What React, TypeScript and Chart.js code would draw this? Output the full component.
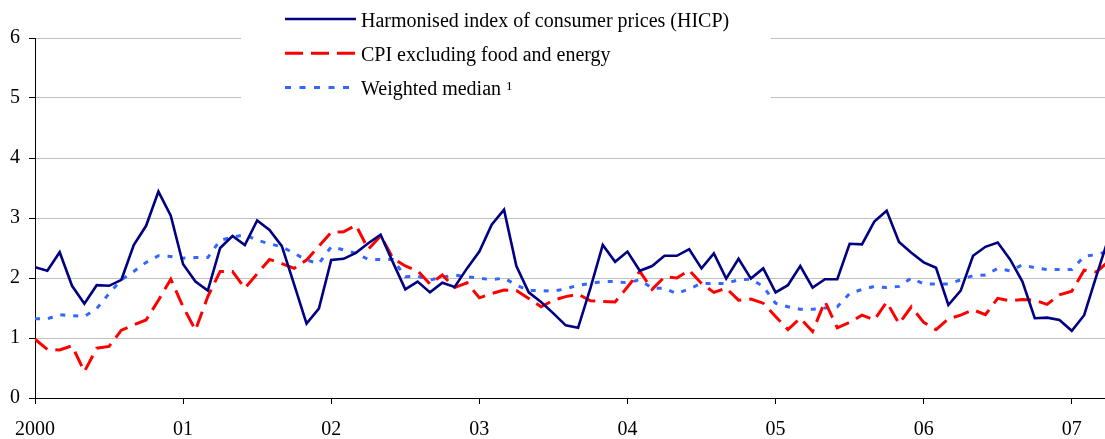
import React, { useEffect, useRef } from "react";
import { Chart, registerables } from "chart.js";

Chart.register(...registerables);

// Monthly observations, January 2000 onwards
const yearLabels = ["2000", "01", "02", "03", "04", "05", "06", "07"];

const seriesNames = [
  "Harmonised index of consumer prices (HICP)",
  "CPI excluding food and energy",
  "Weighted median",
];
const footnoteMark = "1";

const hicp = [
  2.18, 2.12, 2.43, 1.87, 1.57, 1.88, 1.87, 1.97, 2.55, 2.87, 3.44, 3.04,
  2.23, 1.94, 1.79, 2.5, 2.7, 2.55, 2.96, 2.8, 2.53, 1.89, 1.24, 1.49,
  2.3, 2.32, 2.42, 2.58, 2.72, 2.26, 1.81, 1.94, 1.76, 1.92, 1.85, 2.16,
  2.44, 2.89, 3.14, 2.2, 1.76, 1.6, 1.41, 1.21, 1.17, 1.83, 2.55, 2.27,
  2.44, 2.12, 2.2, 2.37, 2.37, 2.48, 2.16, 2.41, 1.99, 2.32, 1.99, 2.16,
  1.76, 1.88, 2.2, 1.84, 1.98, 1.98, 2.57, 2.56, 2.94, 3.12, 2.6, 2.42,
  2.26, 2.17, 1.55, 1.79, 2.37, 2.52, 2.59, 2.31, 1.94, 1.33, 1.34, 1.3,
  1.12, 1.38, 2.04, 2.68,
];

const cpiCore = [
  0.98, 0.81, 0.8, 0.87, 0.44, 0.83, 0.86, 1.13, 1.22, 1.3, 1.63, 1.98,
  1.52, 1.13, 1.69, 2.11, 2.11, 1.83, 2.07, 2.31, 2.24, 2.16, 2.3, 2.53,
  2.76, 2.77, 2.88, 2.48, 2.7, 2.33, 2.2, 2.12, 1.9, 2.05, 1.84, 1.92,
  1.67, 1.74, 1.8, 1.79, 1.66, 1.52, 1.63, 1.69, 1.73, 1.62, 1.61, 1.6,
  1.85, 2.11, 1.81, 2.02, 2.0, 2.13, 1.91, 1.76, 1.83, 1.63, 1.65, 1.58,
  1.36, 1.14, 1.33, 1.11, 1.61, 1.17, 1.26, 1.38, 1.3, 1.6, 1.24, 1.52,
  1.26, 1.14, 1.32, 1.38, 1.47, 1.39, 1.66, 1.62, 1.64, 1.63, 1.56, 1.72,
  1.78, 2.13, 2.1, 2.28,
];

const weightedMedian = [
  1.32, 1.32, 1.39, 1.37, 1.36, 1.49, 1.74, 1.97, 2.11, 2.26, 2.37, 2.36,
  2.33, 2.34, 2.34, 2.63, 2.68, 2.72, 2.63, 2.57, 2.52, 2.41, 2.3, 2.24,
  2.52, 2.47, 2.41, 2.31, 2.31, 2.31, 2.02, 2.03, 1.97, 2.01, 2.05, 2.02,
  2.0, 1.97, 2.0, 1.88, 1.79, 1.79, 1.78, 1.82, 1.88, 1.91, 1.94, 1.94,
  1.92, 1.97, 1.83, 1.83, 1.74, 1.82, 1.91, 1.91, 1.91, 1.97, 1.98, 1.86,
  1.58, 1.52, 1.48, 1.48, 1.5, 1.52, 1.74, 1.81, 1.86, 1.84, 1.86, 2.0,
  1.9, 1.9, 1.9, 1.97, 2.04, 2.05, 2.16, 2.12, 2.22, 2.17, 2.14, 2.14,
  2.14, 2.36, 2.39, 2.45,
];

const FONT = "'Liberation Serif', 'Times New Roman', serif";

export default function App() {
  const ref = useRef<HTMLCanvasElement>(null);

  useEffect(() => {
    if (!ref.current) return;
    const toPts = (arr: number[]) => arr.map((v, i) => ({ x: i, y: v }));

    const legendPlugin = {
      id: "boxLegend",
      beforeDatasetsDraw(chart: any) {
        const ctx = chart.ctx;
        ctx.save();
        ctx.fillStyle = "#ffffff";
        ctx.fillRect(241, 0, 530, 112);
        ctx.restore();
      },
      afterDraw(chart: any) {
        const ctx = chart.ctx;
        chart.data.datasets.forEach((ds: any, i: number) => {
          const y = 19 + i * 34.2;
          ctx.save();
          ctx.strokeStyle = ds.borderColor;
          ctx.lineWidth = ds.borderWidth;
          ctx.setLineDash(ds.legendDash || []);
          ctx.beginPath();
          ctx.moveTo(285, y);
          ctx.lineTo(356, y);
          ctx.stroke();
          ctx.setLineDash([]);
          ctx.fillStyle = "#000";
          ctx.font = `20px ${FONT}`;
          ctx.textAlign = "left";
          ctx.textBaseline = "alphabetic";
          ctx.fillText(ds.label, 361, y + 8);
          if (i === 2) {
            const w = ctx.measureText(ds.label + " ").width;
            ctx.font = `13px ${FONT}`;
            ctx.fillText(footnoteMark, 361 + w, y + 3);
          }
          ctx.restore();
        });
      },
    };

    const chart = new Chart(ref.current, {
      type: "line",
      data: {
        datasets: [
          {
            label: seriesNames[0],
            data: toPts(hicp),
            borderColor: "#000080",
            borderWidth: 2.6,
            pointRadius: 0,
            fill: false,
            legendDash: [],
          } as any,
          {
            label: seriesNames[1],
            data: toPts(cpiCore),
            borderColor: "#ff0000",
            borderWidth: 3,
            borderDash: [16, 8],
            pointRadius: 0,
            fill: false,
            legendDash: [18, 8],
          } as any,
          {
            label: seriesNames[2],
            data: toPts(weightedMedian),
            borderColor: "#3366ff",
            borderWidth: 3,
            borderDash: [5, 8],
            pointRadius: 0,
            fill: false,
            legendDash: [6, 8.5],
          } as any,
        ],
      },
      options: {
        responsive: false,
        animation: false,
        devicePixelRatio: 1,
        layout: { padding: { top: 38, left: 0, right: 0, bottom: 0 } },
        plugins: {
          legend: { display: false },
          tooltip: { enabled: false },
        },
        elements: { line: { tension: 0 }, point: { radius: 0 } },
        scales: {
          x: {
            type: "linear",
            min: 0,
            max: 86.69,
            afterBuildTicks: (s: any) => {
              s.ticks = yearLabels.map((_, i) => ({ value: i * 12 }));
            },
            afterFit: (s: any) => {
              s.height = 41;
            },
            grid: {
              drawOnChartArea: false,
              drawTicks: true,
              tickLength: 6,
              tickColor: "#000",
            },
            border: { color: "#000", width: 1 },
            ticks: {
              callback: (v: any) => yearLabels[Math.round(Number(v) / 12)],
              font: { family: FONT, size: 20 },
              color: "#000",
              padding: 14,
              maxRotation: 0,
              autoSkip: false,
            },
          },
          y: {
            min: 0,
            max: 6,
            afterFit: (s: any) => {
              s.width = 35;
            },
            grid: {
              color: (c: any) => (c.tick && c.tick.value === 0 ? "#000" : "#c0c0c0"),
              tickColor: "#000",
              tickLength: 6,
            },
            border: { color: "#000", width: 1 },
            ticks: {
              stepSize: 1,
              font: { family: FONT, size: 20 },
              color: "#000",
              padding: 9,
            },
          },
        },
      },
      plugins: [legendPlugin],
    } as any);

    return () => chart.destroy();
  }, []);

  return (
    <div style={{ position: "absolute", left: 0, top: 0, width: 1105, height: 439, background: "#fff" }}>
      <canvas ref={ref} width={1105} height={439} style={{ display: "block", width: 1105, height: 439 }} />
    </div>
  );
}
